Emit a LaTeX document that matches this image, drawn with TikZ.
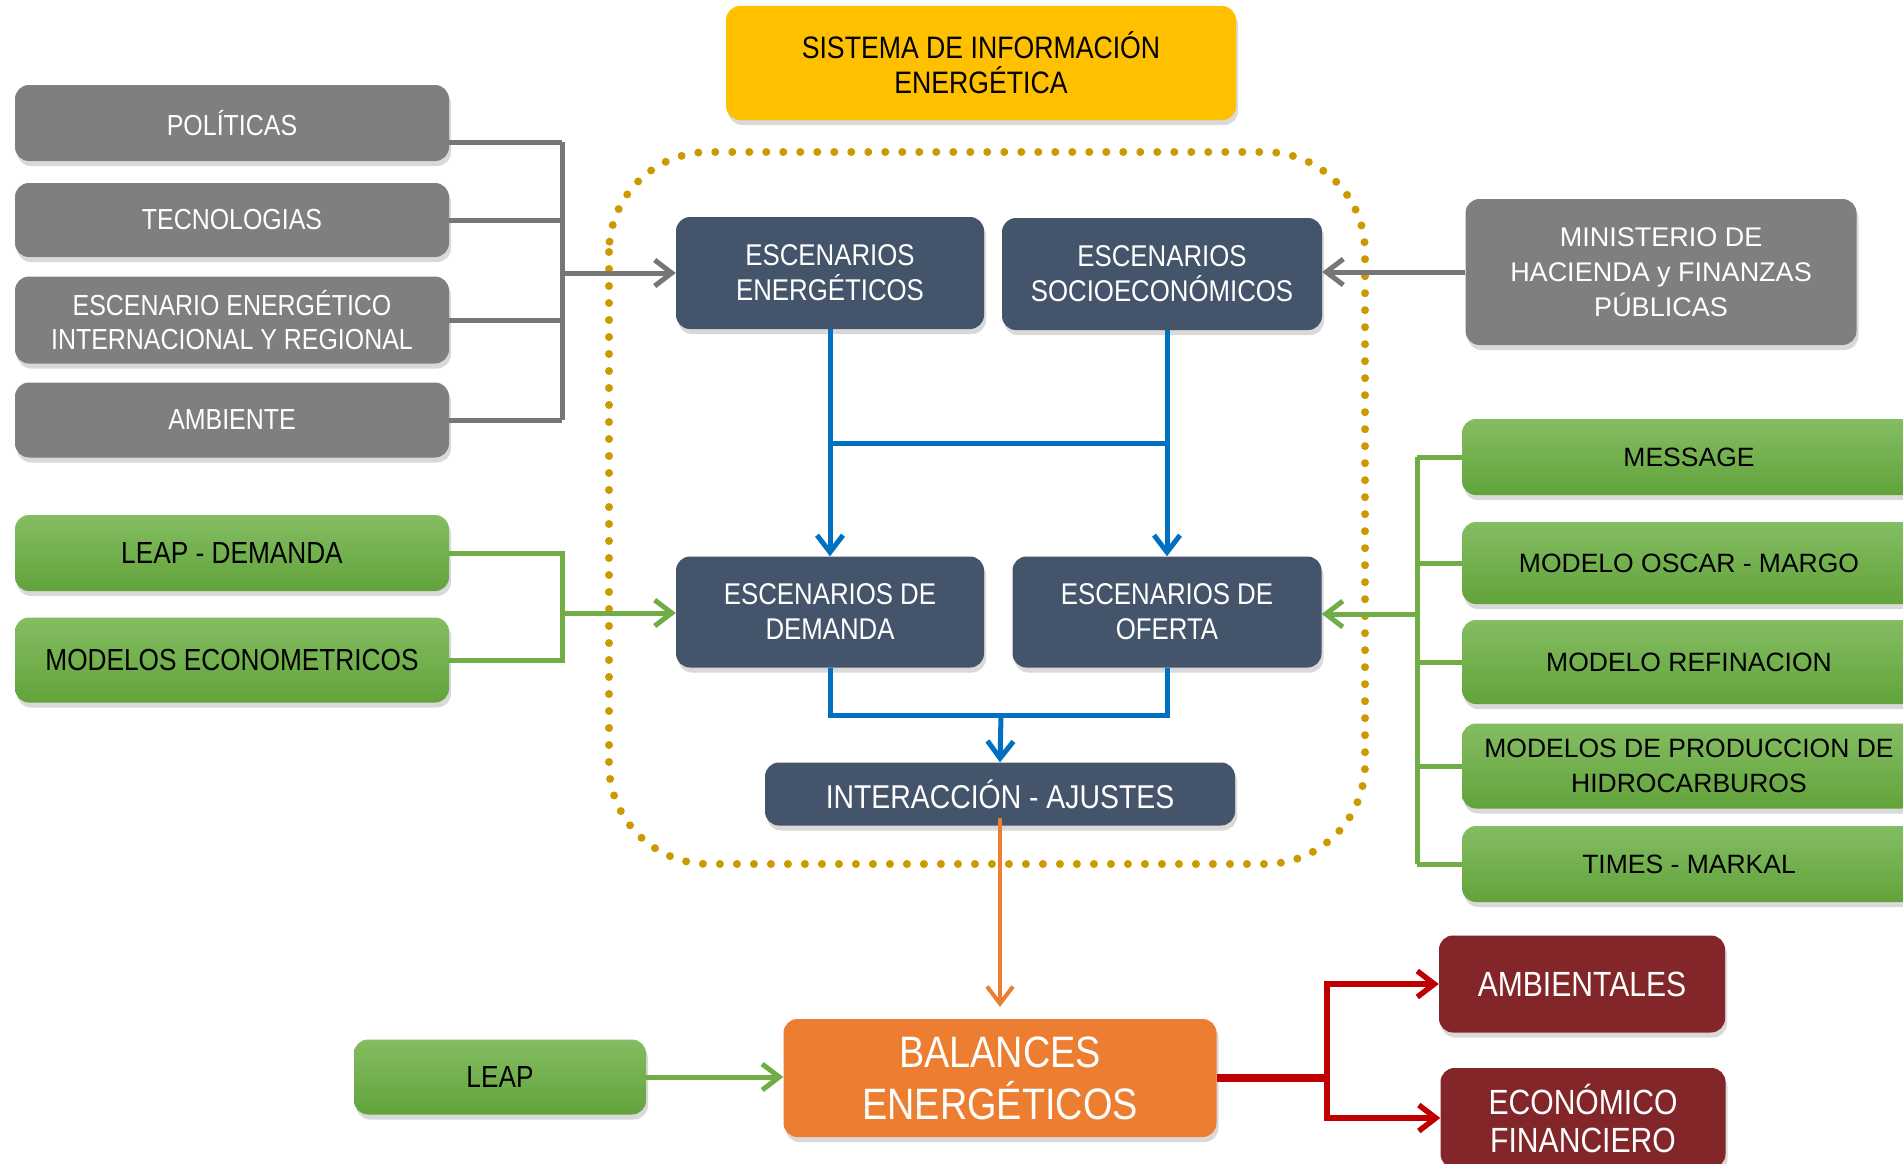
\documentclass[tikz,border=0pt]{standalone}
\usepackage{fontspec}
\setmainfont{Liberation Sans}
\newfontfamily\angosta[FakeStretch=0.86]{Liberation Sans}
\usetikzlibrary{shadows,arrows.meta}
\definecolor{GrisCaja}{RGB}{127,127,127}
\definecolor{Pizarra}{RGB}{68,84,106}
\definecolor{Amarillo}{RGB}{255,192,0}
\definecolor{Naranja}{RGB}{237,125,49}
\definecolor{Granate}{RGB}{130,38,41}
\definecolor{VerdeA}{RGB}{132,189,98}
\definecolor{VerdeB}{RGB}{98,163,59}
\definecolor{VerdeL}{RGB}{112,173,71}
\definecolor{Puntos}{RGB}{204,153,0}
\definecolor{AzulL}{RGB}{0,112,192}
\definecolor{RojoL}{RGB}{192,0,0}
\definecolor{GrisL}{RGB}{118,118,118}

\begin{document}
\begin{tikzpicture}[x=1pt,y=-1pt,
  caja/.style={rectangle,rounded corners=14pt,align=center,inner sep=0pt,
    drop shadow={shadow xshift=2pt,shadow yshift=-5pt,opacity=0.3}},
  gris/.style={caja,fill=GrisCaja,text=white,minimum width=434,
    font=\angosta\fontsize{29}{34}\selectfont},
  verde/.style={caja,top color=VerdeA,bottom color=VerdeB,text=black,
    font=\angosta\fontsize{30.5}{35}\selectfont},
  verdeb/.style={verde,minimum width=454,font=\fontsize{26.5}{35}\selectfont},
  pizarra/.style={caja,fill=Pizarra,text=white,
    font=\angosta\fontsize{30}{35}\selectfont},
  granate/.style={caja,fill=Granate,text=white,
    font=\angosta\fontsize{35}{38}\selectfont},
  flecha/.style={-{Straight Barb[length=17pt,width=26pt]}},
  lgris/.style={draw=GrisL,line width=5pt},
  lverde/.style={draw=VerdeL,line width=5pt},
  lazul/.style={draw=AzulL,line width=5pt},
  lrojo/.style={draw=RojoL,line width=5.5pt}]
\useasboundingbox (0,0) rectangle (1903,1164);

% marco punteado
\draw[Puntos,line width=8pt,line cap=round,dash pattern=on 0pt off 17pt,
  rounded corners=100pt] (609,152) rectangle (1365,864);

\node[caja,fill=Amarillo,minimum width=510,minimum height=114,
  font=\angosta\fontsize{31}{35}\selectfont] (sis) at (981,63)
  {SISTEMA DE INFORMACIÓN\\ENERGÉTICA};

\foreach \n/\y/\h/\t in {pol/123/76/{POLÍTICAS},tec/220/74/{TECNOLOGIAS},
  esc/320/87/{ESCENARIO ENERGÉTICO\\INTERNACIONAL Y REGIONAL},amb/420/75/{AMBIENTE}} {
  \node[gris,minimum height=\h] (\n) at (232,\y) {\t};
}
\node[verde,minimum width=434,minimum height=76] (lde) at (232,553) {LEAP - DEMANDA};
\node[verde,minimum width=434,minimum height=85] (mec) at (232,660) {MODELOS ECONOMETRICOS};

\node[pizarra,minimum width=308,minimum height=112] (eener) at (830,273) {ESCENARIOS\\ENERGÉTICOS};
\node[pizarra,minimum width=320,minimum height=112] (esoc) at (1162,274) {ESCENARIOS\\SOCIOECONÓMICOS};
\node[pizarra,minimum width=308,minimum height=111] (edem) at (830,612) {ESCENARIOS DE\\DEMANDA};
\node[pizarra,minimum width=309,minimum height=111] (eofe) at (1167,612) {ESCENARIOS DE\\OFERTA};
\node[pizarra,minimum width=470,minimum height=63,
  font=\angosta\fontsize{33}{38}\selectfont] (inter) at (1000,794) {INTERACCIÓN - AJUSTES};

\node[caja,fill=GrisCaja,text=white,minimum width=391,minimum height=146,
  font=\fontsize{27}{35}\selectfont] (min) at (1661,272)
  {MINISTERIO DE\\HACIENDA y FINANZAS\\PÚBLICAS};

\foreach \n/\y/\h/\t in {msg/457/76/{MESSAGE},osc/563/82/{MODELO OSCAR - MARGO},
  ref/662/84/{MODELO REFINACION},pro/766/85/{MODELOS DE PRODUCCION DE\\HIDROCARBUROS},
  tim/864/76/{TIMES - MARKAL}} {
  \node[verdeb,minimum height=\h] (\n) at (1689,\y) {\t};
}

\node[caja,fill=Naranja,text=white,minimum width=433,minimum height=118,
  font=\angosta\fontsize{44}{52}\selectfont] (bal) at (1000,1078) {BALANCES\\ENERGÉTICOS};
\node[verde,minimum width=292,minimum height=75] (leap) at (500,1077) {LEAP};
\node[granate,minimum width=286,minimum height=97] (ambl) at (1582,984) {AMBIENTALES};
\node[granate,minimum width=285,minimum height=100] (eco) at (1583,1118) {ECONÓMICO\\FINANCIERO};

% conectores
\coordinate (gj) at (562,273);
\draw[lgris] ([yshift=-19pt]pol.east) -- ([yshift=-19pt]pol.east -| gj);
\foreach \n in {tec,esc,amb} {
  \draw[lgris] (\n.east) -- (\n.east -| gj);
}
\draw[lgris] ([yshift=-19pt]pol.east -| gj) -- (amb.east -| gj);
\draw[lgris,flecha] (gj) -- (eener.west);
\draw[lgris,flecha] (min.west) -- (min.west -| esoc.east);

\coordinate (lj) at (562,613);
\draw[lverde] (lde.east) -| (mec.east -| lj) -- (mec.east);
\draw[lverde,flecha] (lj) -- (lj -| edem.west);

\coordinate (vj) at (1417,614);
\foreach \n in {msg,osc,ref,pro,tim} {
  \draw[lverde] (\n.west) -- (\n.west -| vj);
}
\draw[lverde] (msg.west -| vj) -- (tim.west -| vj);
\draw[lverde,flecha] (vj) -- (vj -| eofe.east);

\coordinate (bj) at (830,443);
\draw[lazul] (eener.south) -- (bj) -- (bj -| eofe.north);
\draw[lazul,flecha] (bj) -- (edem.north);
\draw[lazul,flecha] (esoc.south -| eofe.north) -- (eofe.north);
\coordinate (mj) at (1001,715);
\draw[lazul] (edem.south) |- (mj) -| (eofe.south);
\draw[lazul,flecha] (mj) -- (inter.north);

\draw[Naranja,line width=4pt,flecha] ([yshift=8pt]inter.south) -- ([yshift=12pt]bal.north);
\draw[lverde,flecha] (leap.east) -- (leap.east -| bal.west);

\coordinate (rj) at (1327,1073);
\draw[lrojo,line width=8pt] (bal.east) -- (bal.east -| rj);
\draw[lrojo,flecha] (rj) |- (ambl.west);
\draw[lrojo,flecha] (rj) |- (eco.west);
\end{tikzpicture}
\end{document}
